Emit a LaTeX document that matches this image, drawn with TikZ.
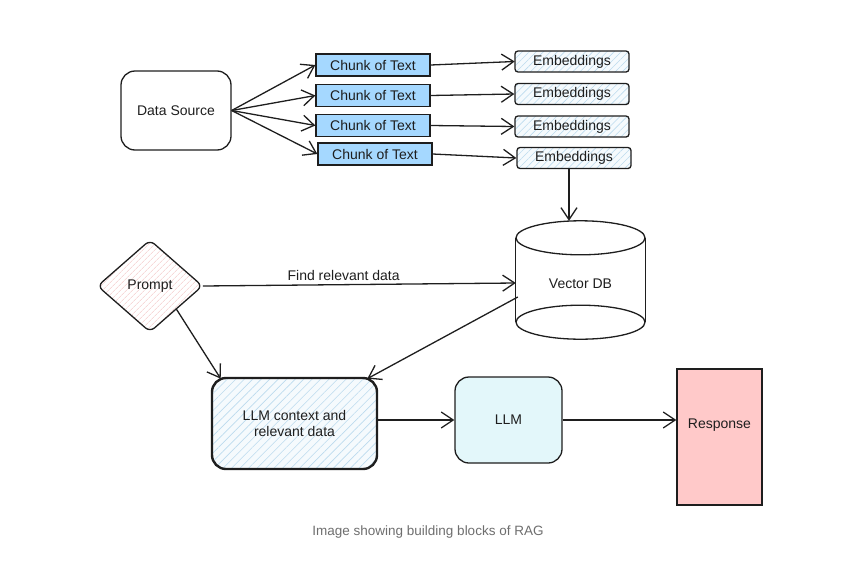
\documentclass[tikz,border=0pt]{standalone}
\usepackage{fontspec}
\setmainfont{Liberation Sans}
\usetikzlibrary{arrows.meta,patterns.meta,shapes.geometric,calc}
\definecolor{chunkblue}{HTML}{A5D8FF}
\definecolor{hatchblue}{HTML}{BCDBEE}
\definecolor{hatchbg}{HTML}{F5FAFD}
\definecolor{hatchpink}{HTML}{F3C4C4}
\definecolor{llmcyan}{HTML}{E3F7FA}
\definecolor{resppink}{HTML}{FFC9C9}
\definecolor{captiongray}{HTML}{6E6E6E}
\definecolor{ink}{HTML}{1E1E1E}
\begin{document}
\begin{tikzpicture}[x=1pt,y=-1pt,
  every node/.style={font=\fontsize{14}{16.5}\selectfont, text=ink},
  line/.style={line width=1.3pt, draw=ink},
  arr/.style={line, -{Straight Barb[length=12pt,width=16pt,line width=1.3pt]}},
  chunkbox/.style={line, fill=chunkblue, minimum width=114pt, minimum height=22pt, inner sep=0pt},
  embbox/.style={line, rounded corners=3pt, minimum width=114pt, minimum height=21pt, inner sep=0pt,
    preaction={fill=hatchbg}, pattern={Lines[angle=45,distance=5pt,line width=0.6pt]}, pattern color=hatchblue},
  bluehatch/.style={preaction={fill=hatchbg}, pattern={Lines[angle=45,distance=6pt,line width=0.6pt]}, pattern color=hatchblue},
  pinkhatch/.style={preaction={fill=white}, pattern={Lines[angle=45,distance=4pt,line width=0.6pt]}, pattern color=hatchpink}
]
\useasboundingbox (0,0) rectangle (861,581);

% Data source
\node[line, rounded corners=14pt, minimum width=110pt, minimum height=79pt] (ds) at (176,110.5) {Data Source};

% Chunks
\node[chunkbox] (c1) at (373,65) {Chunk of Text};
\node[chunkbox] (c2) at (373,95.5) {Chunk of Text};
\node[chunkbox] (c3) at (373,125.5) {Chunk of Text};
\node[chunkbox] (c4) at (375,154) {Chunk of Text};

% Embeddings
\node[embbox] (e1) at (572,61.5) {Embeddings};
\node[embbox] (e2) at (572,94) {Embeddings};
\node[embbox] (e3) at (572,126.5) {Embeddings};
\node[embbox] (e4) at (574,158) {Embeddings};

\foreach \i in {1,...,4} {
  \draw[arr] (ds.east) -- (c\i.west);
  \draw[arr] (c\i.east) -- (e\i.west);
}

% Vector DB
\node[minimum width=129pt, minimum height=118pt, inner sep=0pt] (vdb) at (580.5,280) {};
\node (vdbtext) at (580.5,284) {Vector DB};
\draw[line] ($(vdb.north)+(0,17)$) ellipse [x radius=64.5pt, y radius=17pt];
\draw[line] ($(vdb.south)+(0,-17)$) ellipse [x radius=64.5pt, y radius=17pt];
\draw[line] ($(vdb.north west)+(0,17)$) -- ($(vdb.south west)+(0,-17)$);
\draw[line] ($(vdb.north east)+(0,17)$) -- ($(vdb.south east)+(0,-17)$);

\draw[arr] (e4.south -| 569,0) -- (569,0 |- vdb.north);

% Prompt
\node[diamond, line, rounded corners=6pt, minimum width=105pt, minimum height=92pt, inner sep=0pt, pinkhatch] (prompt) at (150,286) {Prompt};

\coordinate (vdbin) at ($(vdb.west)+(0,3)$);
\draw[arr] (prompt.east) -- node[pos=0.45, above=0pt] {Find relevant data} (vdbin);

% LLM context
\node[line, line width=2.4pt, rounded corners=14pt, minimum width=165pt, minimum height=91pt, align=center, bluehatch] (ctx) at (294.5,423.5) {LLM context and\\relevant data};

\draw[arr] (prompt.south east) -- ($(ctx.north west)+(9,1)$);
\draw[arr] ($(vdb.west)+(2,17)$) -- ($(ctx.north east)+(-10,1)$);

% LLM
\node[line, fill=llmcyan, rounded corners=14pt, minimum width=107pt, minimum height=86pt] (llm) at (508.5,420) {LLM};
\draw[arr] (ctx.east |- llm.west) -- (llm.west);

% Response
\node[line, fill=resppink, minimum width=85pt, minimum height=136pt] (resp) at (719.5,437) {};
\node (resptext) at (719.5,425) {Response};
\draw[arr] (llm.east) -- (llm.east -| resp.west);

% Caption
\node[font=\fontsize{13.5}{16}\selectfont, text=captiongray] (cap) at (428,532) {Image showing building blocks of RAG};
\end{tikzpicture}
\end{document}
